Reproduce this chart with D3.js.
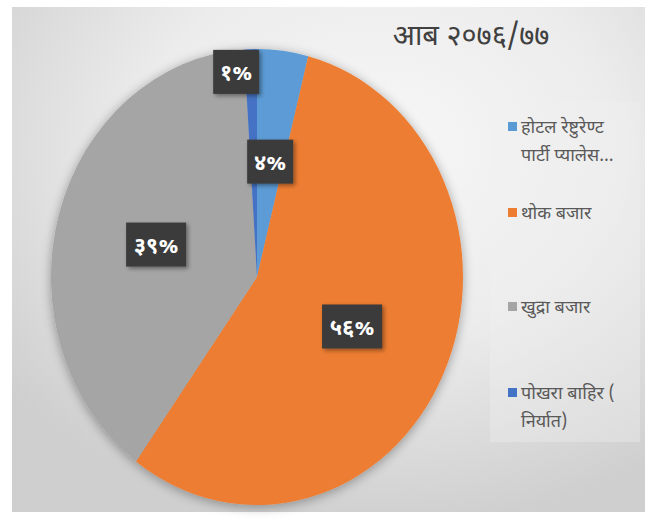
<!DOCTYPE html>
<html>
<head>
<meta charset="utf-8">
<script src="https://cdn.jsdelivr.net/npm/d3@7"></script>
<style>
  html, body { margin: 0; padding: 0; background: #ffffff; }
  svg { display: block; }
  text { font-family: "Noto Sans Devanagari", "Lohit Devanagari", "Mangal", "Noto Sans", sans-serif; }
</style>
</head>
<body>
<svg id="chart" width="652" height="519"></svg>
<script>
const title = "आब २०७६/७७";
const categories = ["होटल रेष्टुरेण्ट पार्टी प्यालेस...", "थोक बजार", "खुद्रा बजार", "पोखरा बाहिर ( निर्यात)"];
const legendLines = [["होटल रेष्टुरेण्ट", "पार्टी प्यालेस..."], ["थोक बजार"], ["खुद्रा बजार"], ["पोखरा बाहिर (", "निर्यात)"]];
const values = [4, 56, 39, 1];
const colors = ["#5B9BD5", "#ED7D31", "#A5A5A5", "#4472C4"];

const devDigits = "०१२३४५६७८९";
const toDev = s => String(s).replace(/[0-9]/g, d => devDigits[+d]);

const W = 652, H = 519;
const svg = d3.select("#chart");
const defs = svg.append("defs");

// background gradient
const bg = defs.append("radialGradient").attr("id", "bgGrad")
  .attr("cx", "0.58").attr("cy", "0.28").attr("r", "0.75");
bg.append("stop").attr("offset", "0").attr("stop-color", "#f7f7f7");
bg.append("stop").attr("offset", "0.5").attr("stop-color", "#ececec");
bg.append("stop").attr("offset", "1").attr("stop-color", "#cfcfcf");

const shadow = defs.append("filter").attr("id", "pieShadow")
  .attr("x", "-20%").attr("y", "-20%").attr("width", "140%").attr("height", "140%");
shadow.append("feGaussianBlur").attr("in", "SourceAlpha").attr("stdDeviation", 6).attr("result", "b");
shadow.append("feOffset").attr("in", "b").attr("dx", 0).attr("dy", 2).attr("result", "o");
shadow.append("feComponentTransfer").attr("in", "o").attr("result", "s")
  .append("feFuncA").attr("type", "linear").attr("slope", 0.35);
const m = shadow.append("feMerge");
m.append("feMergeNode").attr("in", "s");
m.append("feMergeNode").attr("in", "SourceGraphic");

const boxShadow = defs.append("filter").attr("id", "boxShadow")
  .attr("x", "-30%").attr("y", "-30%").attr("width", "160%").attr("height", "160%");
boxShadow.append("feGaussianBlur").attr("in", "SourceAlpha").attr("stdDeviation", 2).attr("result", "b");
boxShadow.append("feOffset").attr("in", "b").attr("dx", 2).attr("dy", 2).attr("result", "o");
boxShadow.append("feComponentTransfer").attr("in", "o").attr("result", "s")
  .append("feFuncA").attr("type", "linear").attr("slope", 0.4);
const m2 = boxShadow.append("feMerge");
m2.append("feMergeNode").attr("in", "s");
m2.append("feMergeNode").attr("in", "SourceGraphic");

// frame
const frame = { x: 12, y: 7, w: 633, h: 505 };
svg.append("rect").attr("x", frame.x).attr("y", frame.y)
  .attr("width", frame.w).attr("height", frame.h).attr("fill", "url(#bgGrad)");

// title
svg.append("text").attr("x", 471).attr("y", 45)
  .attr("text-anchor", "middle")
  .attr("font-size", 29).attr("fill", "#404040")
  .text(title);

// pie (slightly elliptical as in reference)
const cx = 257, cy = 277, ry = 228, rx = 206;
const pie = d3.pie().sort(null).value(d => d);
const arcs = pie(values);
const arc = d3.arc().innerRadius(0).outerRadius(ry);

const gPie = svg.append("g")
  .attr("transform", `translate(${cx},${cy}) scale(${rx / ry},1)`)
  .attr("filter", "url(#pieShadow)");
gPie.selectAll("path").data(arcs).enter().append("path")
  .attr("d", arc)
  .attr("fill", (d, i) => colors[i]);

// labels
const total = d3.sum(values);
const labelG = svg.append("g").attr("transform", `translate(${cx},${cy})`);
arcs.forEach((d, i) => {
  const small = d.value / total < 0.02;
  const f = small ? 0.9 : 0.51;
  const la = d3.arc().innerRadius(ry * f).outerRadius(ry * f);
  const [ax, ay] = la.centroid(d);
  const txt = toDev(d.value) + "%";
  const bw = txt.length === 2 ? 46 : 60, bh = 44;
  let px = ax * rx / ry, py = ay;
  if (small) px = px - bw / 2 + 8;
  const g = labelG.append("g").attr("transform", `translate(${px},${py})`);
  g.append("rect").attr("x", -bw / 2).attr("y", -bh / 2)
    .attr("width", bw).attr("height", bh)
    .attr("fill", "#3b3b3b").attr("filter", "url(#boxShadow)");
  g.append("text").attr("x", 0).attr("y", 8)
    .attr("text-anchor", "middle").attr("font-size", 22)
    .attr("font-weight", "bold").attr("fill", "#ffffff")
    .text(txt);
});

// legend
const legY = [127, 213, 307, 393];
const lineH = 28;
svg.append("rect").attr("x", 490).attr("y", 102).attr("width", 150).attr("height", 340)
  .attr("fill", "#f2f2f2").attr("opacity", 0.35);
const leg = svg.append("g");
legendLines.forEach((lines, i) => {
  leg.append("rect").attr("x", 508).attr("y", legY[i] - 5)
    .attr("width", 9).attr("height", 9).attr("fill", colors[i]);
  lines.forEach((ln, j) => {
    leg.append("text").attr("x", 521).attr("y", legY[i] + 6 + j * lineH)
      .attr("font-size", 18).attr("fill", "#595959")
      .text(ln);
  });
});
</script>
</body>
</html>
